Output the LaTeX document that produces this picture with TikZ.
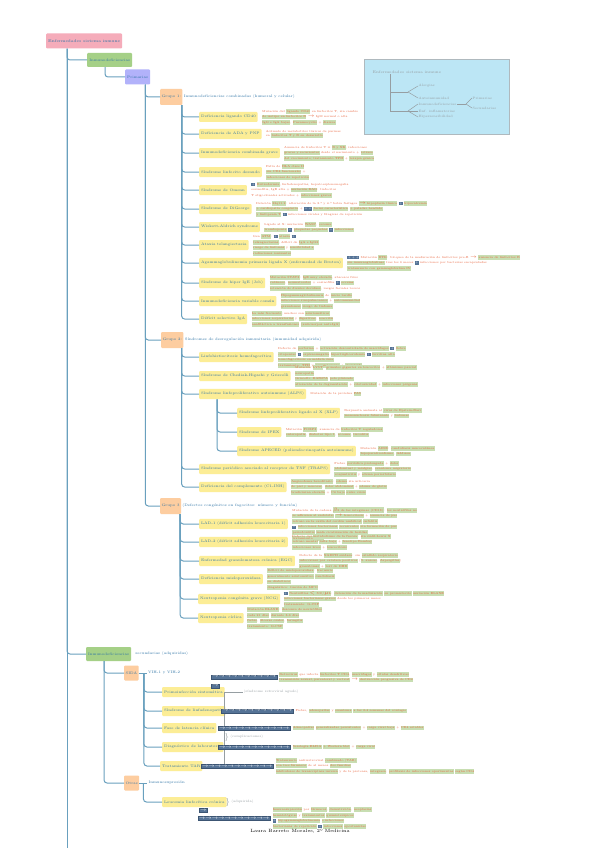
\documentclass[tikz,border=0pt]{standalone}
\usepackage{fontspec}
\newcommand\resaltar[1]{{\setlength{\fboxsep}{0.3pt}\colorbox{ColorResalte}{\strut#1}}}
\newcommand\icono{{\setlength{\fboxsep}{0.5pt}\colorbox{ColorIcono}{\textcolor{white}{+}}}}
\newcommand\flechas[1]{\foreach \k in {1,...,#1}{\makebox[6.4pt]{$\rightarrow$}}}
\begin{document}
\begin{tikzpicture}[
		x=1pt,y=-1pt,
		rama/.style={draw=ColorRama,line width=1pt,rounded corners=3pt},
		lineaGris/.style={draw=ColorGris,line width=0.5pt},
		caja/.style={anchor=west,text=ColorTexto,font=\fontsize{3.6}{4.4}\selectfont,rounded corners=1pt,inner xsep=2pt},
		raiz/.style={caja,fill=ColorRaiz,minimum height=15pt},
		verde/.style={caja,fill=ColorVerde,minimum height=14pt},
		lila/.style={caja,fill=ColorLila,minimum height=15pt},
		naranja/.style={caja,fill=ColorNaranja,minimum height=16pt,inner xsep=1.5pt},
		amarillo/.style={caja,fill=ColorAmarillo,minimum height=10pt,inner xsep=2pt},
		textoAzul/.style={anchor=west,text=ColorTexto,font=\fontsize{3.6}{4.4}\selectfont,inner sep=1pt},
		detalle/.style={anchor=west,align=left,text=ColorDetalle,font=\fontsize{2.9}{4}\selectfont,inner sep=0pt},
		tira/.style={anchor=west,fill=ColorIcono,draw=ColorIconoBorde,line width=0.3pt,text=white,font=\fontsize{5}{5}\selectfont,inner sep=0.8pt},
		gris/.style={anchor=west,text=ColorGris,font=\fontsize{3.3}{4}\selectfont,inner sep=0.5pt}
	]
		\definecolor{ColorRaiz}{RGB}{245,172,186}
		\definecolor{ColorVerde}{RGB}{165,208,135}
		\definecolor{ColorLila}{RGB}{178,178,250}
		\definecolor{ColorNaranja}{RGB}{253,205,160}
		\definecolor{ColorAmarillo}{RGB}{252,237,150}
		\definecolor{ColorTexto}{RGB}{45,115,165}
		\definecolor{ColorRama}{RGB}{105,160,190}
		\definecolor{ColorDetalle}{RGB}{232,95,55}
		\definecolor{ColorResalte}{RGB}{200,222,178}
		\definecolor{ColorIcono}{RGB}{85,115,150}
		\definecolor{ColorIconoBorde}{RGB}{60,85,115}
		\definecolor{ColorGris}{RGB}{150,158,162}
		\definecolor{ColorLeyenda}{RGB}{188,230,245}
		\definecolor{ColorBordeLeyenda}{RGB}{175,185,190}
		\fill[white] (0,0) rectangle (600,848);
		\useasboundingbox (0,0) rectangle (600,848);

		\node[draw=ColorBordeLeyenda,fill=ColorLeyenda,anchor=north west,
			minimum width=145pt,minimum height=75pt] (leyenda) at (364,59) {};
		\node[gris,font=\fontsize{3.8}{5}\selectfont] (l0) at (372,72) {Enfermedades sistema inmune};
		\node[gris] (l1) at (418,86) {Alergias};
		\node[gris] (l2) at (418,98) {Autoinmunidad};
		\node[gris] (l3) at (418,104) {Inmunodeficiencias};
		\node[gris] (l4) at (418,111) {Enf. inflamatorias};
		\node[gris] (l5) at (418,117) {Hipersensibilidad};
		\node[gris] (l6) at (472,98) {Primarias};
		\node[gris] (l7) at (472,108) {Secundarias};
		\coordinate (k1) at (408,92);
		\coordinate (k2) at (408,111);
		\coordinate (k3) at (466,104);
		\draw[lineaGris] (l0.south west) ++(18,0) |- (k1);
		\draw[lineaGris] (l0.south west) ++(18,0) |- (k2);
		\foreach \h in {l1,l2} \draw[lineaGris] (k1) -- (\h.west);
		\foreach \h in {l3,l4,l5} \draw[lineaGris] (k2) -- (\h.west);
		\draw[lineaGris] (l3.east) -- (k3);
		\foreach \h in {l6,l7} \draw[lineaGris] (k3) -- (\h.west);

		\node[raiz,minimum width=74pt,font=\fontsize{4}{5}\selectfont] (enf) at (46,41) {Enfermedades sistema inmune};
		\node[verde,minimum width=45pt] (inmuno) at (87,60) {Inmunodeficiencias};
		\node[lila,minimum width=23pt] (prim) at (125,77) {Primarias};
		\coordinate (finTronco) at (67,852);

		\node[naranja,minimum width=20pt] (g1) at (160,97) {Grupo 1:};
		\node[textoAzul] (g1t) at (g1.east) {Inmunodeficiencias combinadas (humoral y celular)};
		\node[amarillo] (a1) at (199,117) {Deficiencia ligando CD40};
		\node[amarillo] (a2) at (199,134) {Deficiencia de ADA y PNP};
		\node[amarillo] (a3) at (199,153) {Inmunodeficiencia combinada grave};
		\node[amarillo] (a4) at (199,172) {Síndrome linfocito desnudo};
		\node[amarillo] (a5) at (199,190) {Síndrome de Omenn};
		\node[amarillo] (a6) at (199,209) {Síndrome de DiGeorge};
		\node[amarillo] (a7) at (199,227) {Wiskott-Aldrich syndrome};
		\node[amarillo] (a8) at (199,245) {Ataxia telangiectasia};
		\node[amarillo] (a9) at (199,263) {Agammaglobulinemia primaria ligada X (enfermedad de Bruton)};
		\node[amarillo] (a10) at (199,283) {Síndrome de hiper IgE (Job)};
		\node[amarillo] (a11) at (199,301) {Inmunodeficiencia variable común};
		\node[amarillo] (a12) at (199,319) {Déficit selectivo IgA};

		\node[detalle] (da1) at ([xshift=4pt]a1.east)
			{Mutación del \resaltar{ligando CD40} en linfocitos T, sin cambio\\
			\resaltar{de isotipo en linfocitos B} $\rightarrow$ IgM normal o alta\\
			\resaltar{IgG e IgA bajas}, \resaltar{Pneumocystis} + \resaltar{diarrea}};
		\node[detalle] (da2) at ([xshift=4pt]a2.east)
			{Acúmulo de metabolitos tóxicos de purinas\\
			en \resaltar{linfocitos T y B en desarrollo}};
		\node[detalle] (da3) at ([xshift=4pt]a3.east)
			{Ausencia de linfocitos T ± \resaltar{B y NK}, infecciones\\
			\resaltar{graves y recurrentes} desde el nacimiento + \resaltar{retraso}\\
			\resaltar{del crecimiento; tratamiento TPH} + \resaltar{terapia génica}};
		\node[detalle] (da4) at ([xshift=4pt]a4.east)
			{Falta de \resaltar{HLA clase II}\\
			\resaltar{sin CD4 funcionales} +\\
			\resaltar{infecciones de repetición}};
		\node[detalle] (da5) at ([xshift=4pt]a5.east)
			{\icono{} \resaltar{Eritrodermia}, linfadenopatías, hepatoesplenomegalia\\
			eosinofilia, IgE alta + \resaltar{mutación RAG}: linfocitos\\
			T oligoclonales activados + \resaltar{infecciones graves}};
		\node[detalle] (da6) at ([xshift=4pt]a6.east)
			{Deleción \resaltar{22q11.2}: alteración de la 3.ª y 4.ª bolsa faríngea \resaltar{$\rightarrow$ hipoplasia tímica} \icono{} \resaltar{hipocalcemia}\\
			\resaltar{+ cardiopatía congénita} + \icono\icono{} \resaltar{facies característica} \resaltar{+ paladar hendido}\\
			\resaltar{y linfopenia T} \icono{} infecciones virales y fúngicas de repetición};
		\node[detalle] (da7) at ([xshift=4pt]a7.east)
			{Ligado al X: mutación \resaltar{WASP}, \resaltar{eccema}\\
			\resaltar{trombopenia} \icono{} \resaltar{plaquetas pequeñas} \icono{} \resaltar{infecciones}};
		\node[detalle] (da8) at ([xshift=4pt]a8.east)
			{Gen \resaltar{ATM}: \icono{} \resaltar{ataxia} \icono{}\\
			\resaltar{telangiectasias}, déficit de \resaltar{IgA e IgG2}\\
			\resaltar{riesgo de linfomas} y \resaltar{sensibilidad a}\\
			\resaltar{radiaciones ionizantes}};
		\node[detalle] (da9) at ([xshift=4pt]a9.east)
			{\icono\icono\icono{} Mutación \resaltar{BTK}: bloqueo de la maduración de linfocitos pre-B $\rightarrow$ \resaltar{ausencia de linfocitos B}\\
			\resaltar{sin inmunoglobulinas} tras los 6 meses \icono{} infecciones por bacterias encapsuladas\\
			\resaltar{tratamiento con gammaglobulina IV}};
		\node[detalle] (da10) at ([xshift=4pt]a10.east)
			{\resaltar{Mutación STAT3}: \resaltar{IgE muy elevada}, abscesos fríos\\
			\resaltar{cutáneos}, \resaltar{neumatoceles} + eosinofilia \icono{} \resaltar{eccema}\\
			\resaltar{retención de dientes deciduos}, rasgos faciales toscos};
		\node[detalle] (da11) at ([xshift=4pt]a11.east)
			{\resaltar{Hipogammaglobulinemia} de \resaltar{inicio tardío}\\
			\resaltar{infecciones sinopulmonares} + \resaltar{autoinmunidad}\\
			\resaltar{granulomas} \resaltar{riesgo de linfoma}};
		\node[detalle] (da12) at ([xshift=4pt]a12.east)
			{\resaltar{La más frecuente}; muchos son \resaltar{asintomáticos}\\
			\resaltar{infecciones respiratorias} y \resaltar{digestivas}; \resaltar{reacción}\\
			\resaltar{anafiláctica a transfusiones} \resaltar{(anticuerpos anti-IgA)}};

		\node[naranja,minimum width=20pt] (g2) at (161,340) {Grupo 2:};
		\node[textoAzul] (g2t) at (g2.east) {Síndromes de desregulación inmunitaria (inmunidad adquirida)};
		\node[amarillo] (b1) at (199,357) {Linfohistiocitosis hemofagocítica};
		\node[amarillo] (b2) at (199,376) {Síndrome de Chediak-Higashi y Griscelli};
		\node[amarillo] (b3) at (199,394) {Síndrome linfoproliferativo autoinmune (ALPS)};
		\node[amarillo] (c1) at (237,413) {Síndrome linfoproliferativo ligado al X (XLP)};
		\node[amarillo] (c2) at (237,432) {Síndrome de IPEX};
		\node[amarillo] (c3) at (237,451) {Síndrome APECED (poliendocrinopatía autoinmune)};
		\node[amarillo] (b4) at (199,469) {Síndrome periódico asociado al receptor de TNF (TRAPS)};
		\node[amarillo] (b5) at (199,487) {Deficiencia del complemento (C1-INH)};

		\node[detalle] (db1) at ([xshift=4pt]b1.east)
			{Defecto de \resaltar{perforina} + \resaltar{activación descontrolada de macrófagos} \icono{} \resaltar{fiebre}\\
			\resaltar{citopenias} \icono{} \resaltar{esplenomegalia} \resaltar{hipertrigliceridemia} \icono{} \resaltar{ferritina alta}\\
			\resaltar{hemofagocitosis en médula ósea}\\
			\resaltar{tratamiento: TPH} y \resaltar{quimioterapia} + \resaltar{etopósido}};
		\node[detalle] (db2) at ([xshift=4pt]b2.east)
			{Mutación \resaltar{LYST}: \resaltar{gránulos gigantes en leucocitos} + \resaltar{albinismo parcial}\\
			\resaltar{neuropatía}\\
			\resaltar{Griscelli: RAB27A} \resaltar{pelo plateado}\\
			\resaltar{alteración de la degranulación} + \resaltar{citotoxicidad} + \resaltar{infecciones piógenas}};
		\node[detalle] (db3) at ([xshift=4pt]b3.east)
			{Mutación de la proteína \resaltar{FAS}};
		\node[detalle] (dc1) at ([xshift=4pt]c1.east)
			{Respuesta anómala al \resaltar{virus de Epstein-Barr}\\
			\resaltar{mononucleosis fulminante} y \resaltar{linfomas}};
		\node[detalle] (dc2) at ([xshift=4pt]c2.east)
			{Mutación \resaltar{FOXP3}: ausencia de \resaltar{linfocitos T reguladores}\\
			\resaltar{enteropatía}, \resaltar{diabetes tipo 1}, \resaltar{eccema}, \resaltar{tiroiditis}};
		\node[detalle] (dc3) at ([xshift=4pt]c3.east)
			{Mutación \resaltar{AIRE}: \resaltar{candidiasis mucocutánea}\\
			\resaltar{hipoparatiroidismo}, \resaltar{Addison}};
		\node[detalle] (db4) at ([xshift=4pt]b4.east)
			{Fiebre \resaltar{periódica prolongada} + \resaltar{dolor}\\
			\resaltar{abdominal y mialgias}, \resaltar{exantema migratorio}\\
			\resaltar{conjuntivitis} y \resaltar{edema periorbitario}};
		\node[detalle] (db5) at ([xshift=4pt]b5.east)
			{\resaltar{Angioedema hereditario}: \resaltar{edema} sin urticaria\\
			\resaltar{de piel y mucosas}, \resaltar{dolor abdominal} + \resaltar{edema de glotis}\\
			\resaltar{bradicinina elevada} + \resaltar{C4 bajo} \resaltar{entre crisis}};

		\node[naranja,minimum width=20pt] (g3) at (160,506) {Grupo 3};
		\node[textoAzul] (g3t) at (g3.east) {(Defectos congénitos en fagocitos: número y función)};
		\node[amarillo] (e1) at (199,524) {LAD-1 (déficit adhesión leucocitaria 1)};
		\node[amarillo] (e2) at (199,542) {LAD-2 (déficit adhesión leucocitaria 2)};
		\node[amarillo] (e3) at (199,561) {Enfermedad granulomatosa crónica (EGC)};
		\node[amarillo] (e4) at (199,579) {Deficiencia mieloperoxidasa};
		\node[amarillo] (e5) at (198,599) {Neutropenia congénita grave (NCG)};
		\node[amarillo] (e6) at (198,618) {Neutropenia cíclica};

		\node[detalle] (de1) at ([xshift=4pt]e1.east)
			{Mutación de la cadena \resaltar{$\beta$2 de las integrinas (CD18)}: \resaltar{los neutrófilos no}\\
			\resaltar{se adhieren al endotelio} \resaltar{$\rightarrow$ leucocitosis} + \resaltar{ausencia de pus}\\
			\resaltar{retraso en la caída del cordón umbilical} \resaltar{onfalitis}\\
			\icono{} \resaltar{infecciones bacterianas} \resaltar{recurrentes} \resaltar{sin formación de pus}\\
			\resaltar{periodontitis} \resaltar{mala cicatrización de heridas}\\
			\resaltar{tratamiento: TPH}};
		\node[detalle] (de2) at ([xshift=4pt]e2.east)
			{Defecto del \resaltar{metabolismo de la fucosa}: \resaltar{sin sialil-Lewis X}\\
			\resaltar{retraso mental} \resaltar{talla baja} + \resaltar{fenotipo Bombay}\\
			\resaltar{infecciones leves} + \resaltar{leucocitosis}};
		\node[detalle] (de3) at ([xshift=4pt]e3.east)
			{Defecto de la \resaltar{NADPH oxidasa}: sin \resaltar{estallido respiratorio}\\
			\resaltar{infecciones por catalasa positivos} (\resaltar{S. aureus}, \resaltar{Aspergillus})\\
			\resaltar{granulomas} + \resaltar{test de DHR}};
		\node[detalle] (de4) at ([xshift=4pt]e4.east)
			{\resaltar{Déficit de mieloperoxidasa}: \resaltar{frecuente}\\
			\resaltar{generalmente asintomático} \resaltar{candidiasis}\\
			\resaltar{en diabéticos}\\
			\resaltar{diagnóstico: tinción de MPO}};
		\node[detalle] (de5) at ([xshift=3pt]e5.east)
			{\icono{} \resaltar{Neutrófilos $<$ 500/$\mu$L}: \resaltar{detención de la maduración} \resaltar{en promielocito} \resaltar{mutación ELANE}\\
			\resaltar{infecciones bacterianas graves} desde los primeros meses\\
			\resaltar{tratamiento: G-CSF}};
		\node[detalle] (de6) at ([xshift=3pt]e6.east)
			{\resaltar{Mutación ELANE}: \resaltar{descenso de neutrófilos}\\
			\resaltar{cada 21 días} \resaltar{durante 3-6 días}\\
			\resaltar{fiebre}, \resaltar{úlceras orales}, \resaltar{faringitis}\\
			\resaltar{tratamiento: G-CSF}};

		\node[verde,minimum width=41pt] (inmuno2) at (86,654) {Inmunodeficiencias};
		\node[textoAzul] (inmuno2t) at ([xshift=3pt]inmuno2.east) {secundarias (adquiridas)};
		\node[naranja,minimum width=13pt,minimum height=15pt] (sida) at (124,673) {SIDA};
		\node[textoAzul] (sidat) at ([xshift=8pt]sida.east) {VIH-1 y VIH-2};
		\node[naranja,minimum width=15pt,minimum height=15pt] (otras) at (124,783) {Otras};
		\node[textoAzul] (otrast) at ([xshift=8pt]otras.east) {Inmunosupresión};
		\draw[rama] (sida.east) -- (sidat.west);
		\draw[rama] (otras.east) -- (otrast.west);

		\node[amarillo] (p1) at (162,692) {Primoinfección sintomática};
		\node[amarillo] (p2) at (162,711) {Síndrome de linfadenopatía};
		\node[amarillo] (p3) at (162,728) {Fase de latencia clínica};
		\node[amarillo] (p4) at (162,747) {Diagnóstico de laboratorio};
		\node[amarillo] (p5) at (160,766) {Tratamiento TAR};
		\node[amarillo] (q1) at (162,802) {Leucemia linfocítica crónica};

		\node[gris] (res1) at (243,692) {(síndrome retroviral agudo)};
		\draw[lineaGris] (p1.east) -- (res1.west);
		\draw[lineaGris] (res1.west) ++(-19,0) -- ++(0,74);
		\node[gris,font=\fontsize{8}{8}\selectfont] (llave1) at (224,737) {\}};
		\node[gris] (res2) at (llave1.east) {(complicaciones)};
		\node[gris,font=\fontsize{8}{8}\selectfont] (llave2) at (225,802) {\}};
		\node[gris] (res3) at (llave2.east) {(adquirida)};

		\node[tira] (s1) at (211,677) {\flechas{10}};
		\node[tira] (s1b) at (211,686) {\flechas{1}};
		\node[tira] (s2) at (221,711) {\flechas{11}};
		\node[tira] (s3) at (218,728) {\flechas{11}};
		\node[tira] (s4) at (218,747) {\flechas{11}};
		\node[tira] (s5) at (201,766) {\flechas{11}};
		\node[tira] (s6) at (199,810) {\flechas{1}};
		\node[tira] (s7) at (198,818) {\flechas{11}};

		\node[detalle] (ds1) at ([xshift=2pt]s1.east)
			{\resaltar{Retrovirus} que infecta \resaltar{linfocitos T CD4}, \resaltar{macrófagos} y \resaltar{células dendríticas}\\
			\resaltar{transmisión sexual, parenteral y vertical} $\rightarrow$ \resaltar{destrucción progresiva de CD4}};
		\node[detalle] (ds2) at ([xshift=2pt]s2.east)
			{Fiebre, \resaltar{adenopatías} y \resaltar{exantema} \resaltar{a las 2-4 semanas del contagio}};
		\node[detalle] (ds3) at ([xshift=2pt]s3.east)
			{\resaltar{Adenopatías} \resaltar{generalizadas persistentes} + \resaltar{carga viral baja} + \resaltar{CD4 estables}};
		\node[detalle] (ds4) at ([xshift=2pt]s4.east)
			{\resaltar{Serología ELISA} \resaltar{+ Western blot} + \resaltar{carga viral}};
		\node[detalle] (ds5) at ([xshift=2pt]s5.east)
			{\resaltar{Tratamiento} antirretroviral \resaltar{combinado (TAR)}\\
			\resaltar{con tres fármacos} de al menos \resaltar{dos familias}\\
			\resaltar{inhibidores de transcriptasa inversa} y de la proteasa, \resaltar{integrasa}; \resaltar{profilaxis de infecciones oportunistas} \resaltar{según CD4}};
		\node[detalle] (ds7) at ([xshift=2pt]s7.east)
			{\resaltar{Inmunosupresión} por \resaltar{fármacos}, \resaltar{desnutrición}, \resaltar{neoplasias}\\
			\resaltar{hematológicas} y \resaltar{tratamientos} \resaltar{quimioterápicos}\\
			\icono{} \resaltar{hipogammaglobulinemia} \resaltar{e infecciones}\\
			\resaltar{bacterianas de repetición} \icono{} \resaltar{infecciones} \resaltar{oportunistas}};

		\draw[rama] (enf.south west) ++(21,0) -- (finTronco);
		\foreach \h in {inmuno,inmuno2} \draw[rama] (enf.south west) ++(21,0) |- (\h.west);
		\draw[rama] (inmuno.south west) ++(18,0) |- (prim.west);
		\foreach \h in {g1,g2,g3} \draw[rama] (prim.south east) ++(-5,0) |- (\h.west);
		\foreach \h in {a1,a2,a3,a4,a5,a6,a7,a8,a9,a10,a11,a12}
			\draw[rama] (g1.south east) ++(-1,0) |- (\h.west);
		\foreach \h in {b1,b2,b3,b4,b5} \draw[rama] (g2.south east) ++(-2,0) |- (\h.west);
		\foreach \h in {c1,c2,c3} \draw[rama] (b3.south west) ++(18,0) |- (\h.west);
		\foreach \h in {e1,e2,e3,e4,e5,e6} \draw[rama] (g3.south east) ++(-1,0) |- (\h.west);
		\foreach \h in {sida,otras} \draw[rama] (inmuno2.south west) ++(18,0) |- (\h.west);
		\foreach \h in {p1,p2,p3,p4,p5} \draw[rama] (sida.east) ++(5,0) |- (\h.west);
		\draw[rama] (otras.east) ++(4,0) |- (q1.west);

		\node[font=\fontsize{4.6}{5}\selectfont] (pie) at (300,831) {Laura Barreto Morales, 2º Medicina};
	\end{tikzpicture}
\end{document}
